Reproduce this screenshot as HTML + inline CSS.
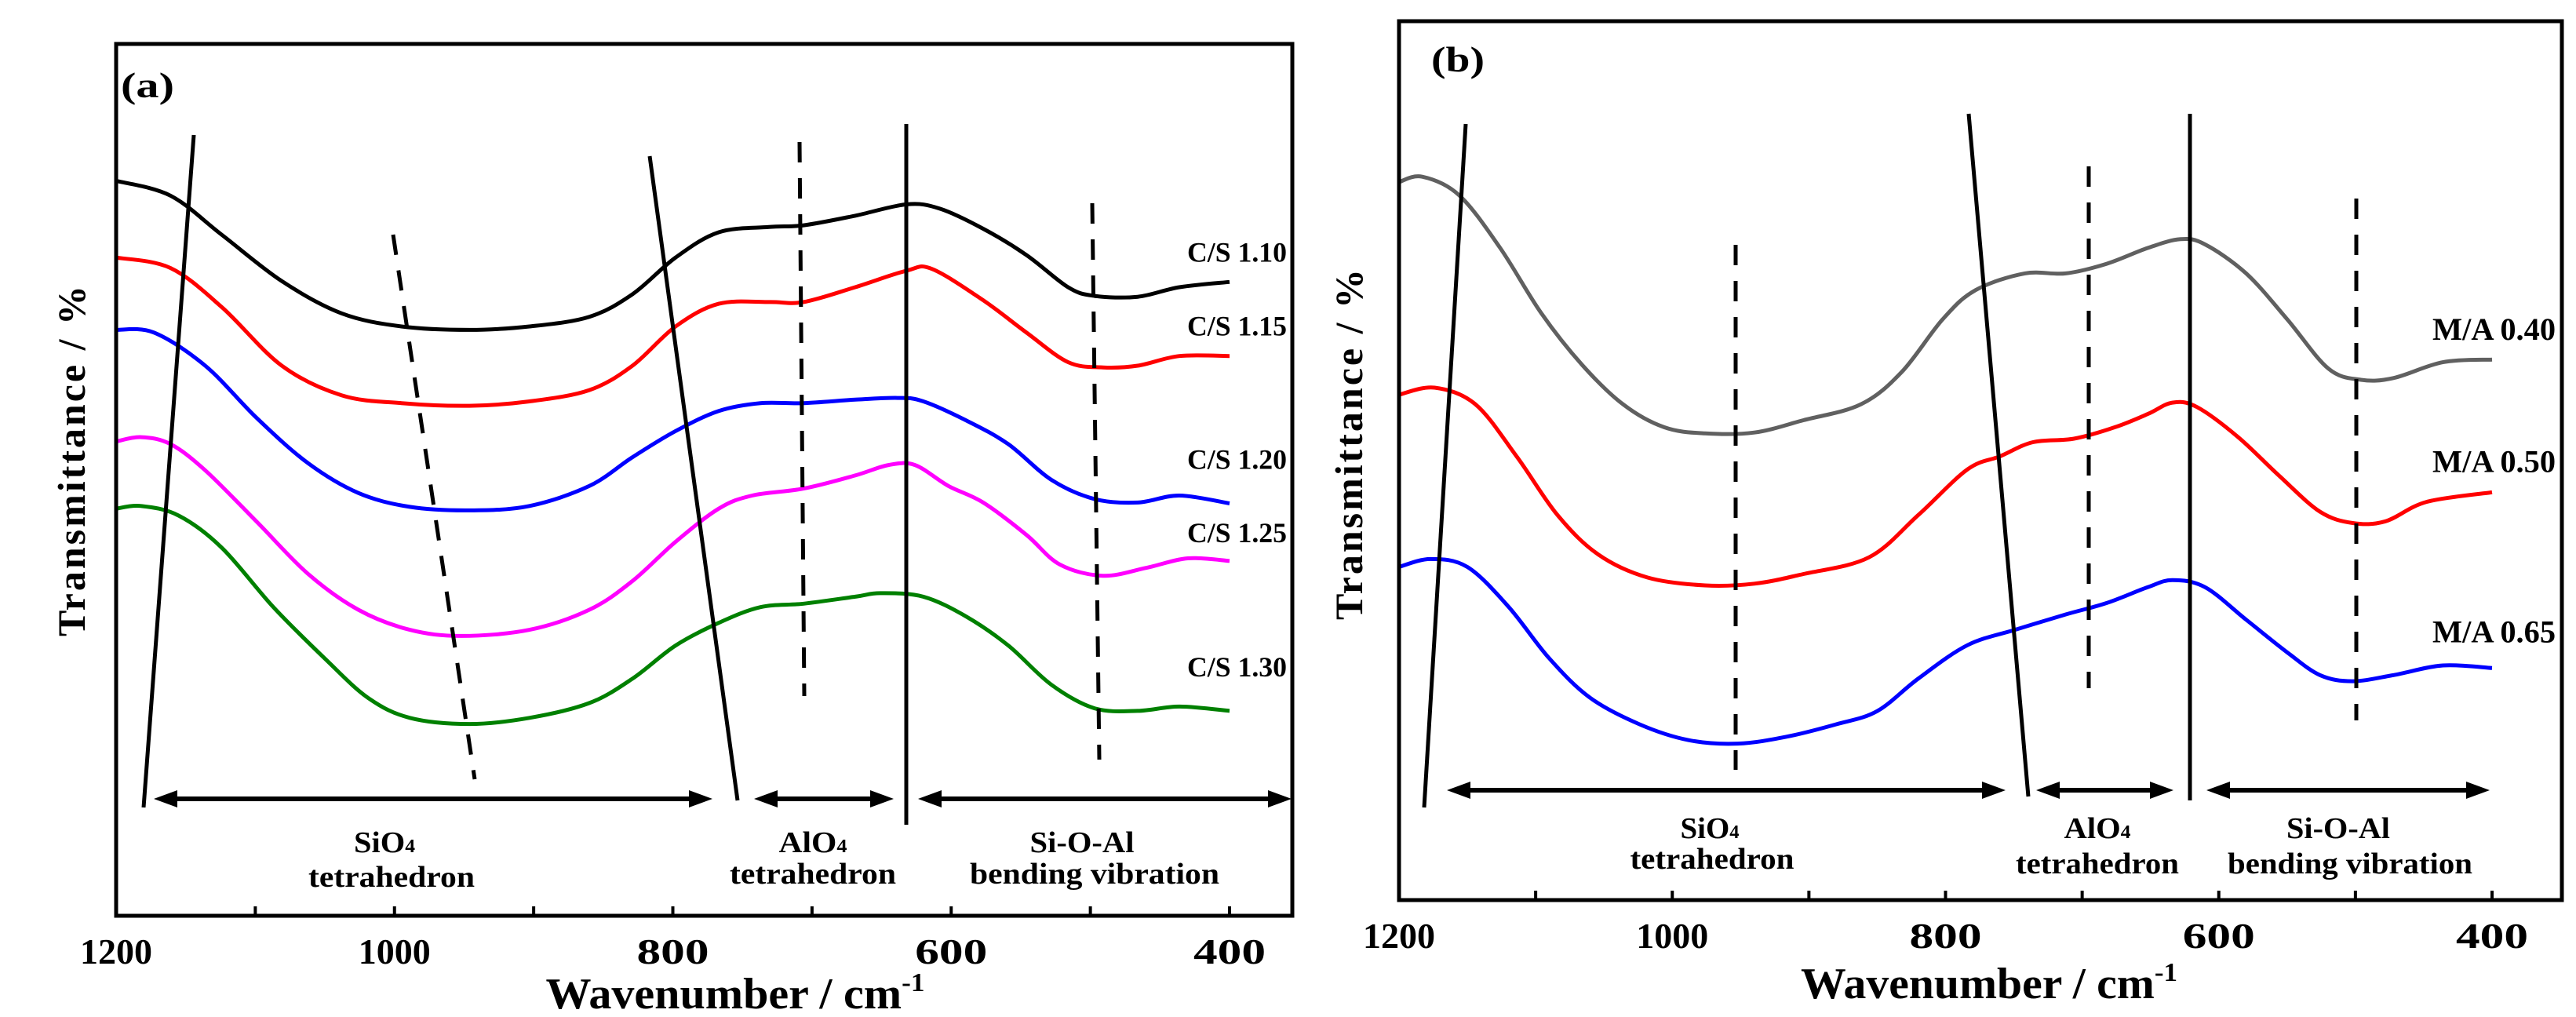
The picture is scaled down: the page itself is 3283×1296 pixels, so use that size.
<!DOCTYPE html>
<html><head><meta charset="utf-8"><style>
html,body{margin:0;padding:0;background:#fff;}
svg{display:block;font-family:"Liberation Serif",serif;font-weight:bold;}
</style></head><body>
<svg id="fig" width="3283" height="1296" viewBox="0 0 3283 1296"></svg>
<script>
// ---------- Panel (a) data ----------
const aTicks = [1200,1000,800,600,400];
const aNames = ["C/S 1.10","C/S 1.15","C/S 1.20","C/S 1.25","C/S 1.30"];
const aColors = ["#000000","#ff0000","#0000ff","#ff00ff","#008000"];
const aWn0 = [1200,1161,1124,1081,1038,995,946,903,860,829,798,767,731,706,669,632,608,577,546,516,497,466,436,400];
const aT0 = [84.3,82.6,78.1,72.8,69.1,67.6,67.2,67.6,68.7,71.3,75.5,78.4,79.0,79.2,80.3,81.6,81.1,78.8,75.8,72.1,71.1,71.0,72.1,72.7];
const aWn1 = [1200,1161,1124,1081,1038,995,946,903,860,829,798,767,731,706,669,632,614,577,546,516,491,466,436,400];
const aT1 = [75.5,74.3,69.8,63.1,59.7,58.8,58.5,59.0,60.3,63.1,67.6,70.2,70.4,70.4,72.1,74.0,74.2,70.6,66.9,63.5,62.9,63.1,64.2,64.2];
const aWn2 = [1200,1173,1136,1099,1062,1026,989,946,903,860,829,798,767,737,706,669,638,620,589,559,528,497,466,436,400];
const aT2 = [67.2,66.9,63.1,57.1,51.9,48.5,46.9,46.5,47.0,49.3,52.6,55.6,57.9,58.8,58.8,59.2,59.4,59.0,56.8,54.1,50.0,47.8,47.4,48.2,47.3];
const aWn3 = [1200,1182,1161,1136,1099,1062,1026,989,952,903,860,829,798,767,743,706,669,645,626,602,577,546,522,491,460,430,400];
const aT3 = [54.4,54.9,54.1,51.1,45.2,39.2,35.1,32.8,32.1,32.8,35.1,38.4,42.9,46.7,48.2,49.0,50.5,51.7,51.7,49.3,47.4,43.7,40.3,39.0,39.9,41.0,40.7];
const aWn4 = [1200,1182,1155,1124,1087,1050,1019,989,946,903,860,829,798,767,737,706,669,651,620,589,559,528,497,466,436,400];
const aT4 = [46.7,47.0,45.9,42.2,35.4,29.5,25.0,22.7,22.0,22.7,24.4,27.2,31.0,33.6,35.4,35.8,36.6,37.0,36.6,34.3,31.0,26.5,23.8,23.5,24.0,23.5];

// ---------- Panel (b) data ----------
const bTicks = [1200,1000,800,600,400];
const bNames = ["M/A 0.40","M/A 0.50","M/A 0.65"];
const bColors = ["#606060","#ff0000","#0000ff"];
const bWn0 = [1200,1183,1156,1126,1096,1066,1036,1006,976,940,904,862,832,802,778,742,712,682,652,628,610,580,550,520,496,472,436,400];
const bT0 = [81.7,82.3,80.2,74.2,66.8,60.9,56.4,53.8,53.1,53.2,54.6,56.4,60.1,66.1,69.4,71.3,71.3,72.4,74.2,75.2,74.6,71.3,66.1,60.5,59.2,59.4,61.2,61.5];
const bWn1 = [1200,1174,1144,1114,1084,1054,1018,976,940,904,856,820,784,760,736,706,676,652,634,616,586,556,526,502,478,448,400];
const bT1 = [57.5,58.3,56.4,50.5,43.8,39.3,36.7,35.8,36.0,37.1,39.0,43.8,49.0,50.5,52.1,52.5,53.8,55.3,56.6,56.1,52.7,48.3,44.2,42.9,43.1,45.3,46.4];
const bWn2 = [1200,1177,1150,1120,1090,1060,1024,988,952,916,880,850,820,784,748,712,682,652,634,610,580,550,526,502,472,436,400];
const bT2 = [37.9,38.8,37.9,33.4,27.5,23.0,20.0,18.2,17.8,18.6,20.0,21.5,25.2,29.0,30.8,32.5,33.8,35.6,36.4,35.6,31.9,28.2,25.6,24.9,25.6,26.7,26.4];

const NS="http://www.w3.org/2000/svg";
const svg=document.getElementById('fig');
function mk(tag,attrs,parent){const e=document.createElementNS(NS,tag);for(const k in attrs)e.setAttribute(k,attrs[k]);(parent||svg).appendChild(e);return e;}
function smooth(pts){let d="M"+pts[0][0].toFixed(1)+","+pts[0][1].toFixed(1);
 for(let i=0;i<pts.length-1;i++){const p0=pts[i-1]||pts[i],p1=pts[i],p2=pts[i+1],p3=pts[i+2]||p2;
  const c1=[p1[0]+(p2[0]-p0[0])/6,p1[1]+(p2[1]-p0[1])/6],c2=[p2[0]-(p3[0]-p1[0])/6,p2[1]-(p3[1]-p1[1])/6];
  d+=" C"+c1[0].toFixed(1)+","+c1[1].toFixed(1)+" "+c2[0].toFixed(1)+","+c2[1].toFixed(1)+" "+p2[0].toFixed(1)+","+p2[1].toFixed(1);}
 return d;}

function panel(P){
 const g=mk('g',{});
 
 
 const x=w=>P.L+(1200-w)/800*(P.x400-P.L);
 const y=v=>P.B-v/100*(P.B-P.T);
 P.series.forEach((s,i)=>{
  const pts=s.wn.map((w,j)=>[x(w),y(s.t[j])]);
  const p=mk('path',{d:smooth(pts),fill:'none',stroke:s.color,'stroke-width':5,'stroke-linejoin':'round'},g);
  
  
  const t=mk('text',{x:P.labX-P.labW,y:y(s.t[s.t.length-1])+P.labDy[i],'font-size':P.labFs,fill:'#000',textLength:P.labW,lengthAdjust:'spacingAndGlyphs'},g);
  t.textContent=s.name;
  
  
 });
 P.lines.forEach(l=>{const e=mk('line',{x1:l[0],y1:l[1],x2:l[2],y2:l[3],stroke:'#000','stroke-width':5,'stroke-dasharray':l[4]?'26,20':'none'},g);
  
  });
 P.arrows.forEach(a=>{const e=mk('g',{},g);
  
  
  mk('line',{x1:a[0]+20,y1:P.ay,x2:a[1]-20,y2:P.ay,stroke:'#000','stroke-width':6},e);
  mk('polygon',{points:`${a[0]},${P.ay} ${a[0]+30},${P.ay-11} ${a[0]+30},${P.ay+11}`,fill:'#000'},e);
  mk('polygon',{points:`${a[1]},${P.ay} ${a[1]-30},${P.ay-11} ${a[1]-30},${P.ay+11}`,fill:'#000'},e);});
 P.texts.forEach(tx=>{const t=mk('text',{x:tx[0]-tx[3]/2,y:tx[1],'font-size':38,textLength:tx[3],lengthAdjust:'spacingAndGlyphs'},g);
  if(tx[2]==='SiO'||tx[2]==='AlO'){t.textContent=tx[2];const s=mk('tspan',{'font-size':24},t);s.textContent='4';}
  else t.textContent=tx[2];
  
  });
 const f=mk('rect',{x:P.L,y:P.T,width:P.R-P.L,height:P.B-P.T,fill:'none',stroke:'#000','stroke-width':5},g);
 
 
 for(let w=1200;w>=400;w-=100){mk('line',{x1:x(w),y1:P.B,x2:x(w),y2:P.B-12,stroke:'#000','stroke-width':4},g);}
 P.ticks.forEach(w=>{const t=mk('text',{x:x(w)-46,y:P.tickY,'font-size':46,textLength:92,lengthAdjust:'spacingAndGlyphs'},g);t.textContent=w;
  
  });
 const xt=mk('text',{x:P.xtX-P.xtW/2,y:P.xtY,'font-size':56,textLength:P.xtW,lengthAdjust:'spacingAndGlyphs'},g);
 xt.textContent='Wavenumber / cm';const sup=mk('tspan',{dy:-22,'font-size':34},xt);sup.textContent='-1';
 
 
 const yt=mk('text',{x:0,y:0,'text-anchor':'middle','font-size':50,'letter-spacing':3,transform:`translate(${P.ytX},${P.ytY}) rotate(-90)`},g);
 yt.textContent='Transmittance / %';
 
 
 const pl=mk('text',{x:P.plX-34,y:P.plY,'font-size':46,textLength:68,lengthAdjust:'spacingAndGlyphs'},g);pl.textContent='('+P.id.slice(-1)+')';
 
 
}

panel({id:'panel-a',L:148,R:1647,T:56,B:1167,x400:1567,ticks:aTicks,tickY:1228,xtX:937,xtY:1285,xtW:483,ytX:108,ytY:586,plX:188,plY:124,
 labX:1640,labFs:36,labW:127,labDy:[-26,-26,-44,-24,-44],
 series:aNames.map((n,i)=>({name:n,color:aColors[i],wn:[aWn0,aWn1,aWn2,aWn3,aWn4][i],t:[aT0,aT1,aT2,aT3,aT4][i]})),
 lines:[[247,172,183,1029,0],[828,199,940,1020,0],[1155,158,1155,1051,0],[1019,181,1025,887,1],[501,299,605,993,1],[1392,259,1401,968,1]],
 ay:1018,arrows:[[196,908],[961,1139],[1170,1646]],
 texts:[[490,1086,'SiO',78],[499,1130,'tetrahedron',212],[1036,1086,'AlO',87],[1036,1126,'tetrahedron',212],[1379,1086,'Si-O-Al',133],[1395,1126,'bending vibration',318]]});

panel({id:'panel-b',L:1783,R:3265,T:27,B:1147,x400:3176,ticks:bTicks,tickY:1208,xtX:2535,xtY:1272,xtW:480,ytX:1736,ytY:565,plX:1858,plY:91,
 labX:3257,labFs:40,labW:157,labDy:[-25,-26,-33],
 series:bNames.map((n,i)=>({name:n,color:bColors[i],wn:[bWn0,bWn1,bWn2][i],t:[bT0,bT1,bT2][i]})),
 lines:[[1868,158,1815,1029,0],[2509,145,2585,1015,0],[2791,145,2791,1020,0],[2212,312,2212,981,1],[2662,212,2662,877,1],[3003,253,3003,918,1]],
 ay:1007,arrows:[[1844,2556],[2595,2770],[2812,3173]],
 texts:[[2179,1068,'SiO',75],[2182,1107,'tetrahedron',209],[2673,1068,'AlO',85],[2673,1113,'tetrahedron',208],[2980,1068,'Si-O-Al',132],[2995,1113,'bending vibration',312]]});
</script>
</body></html>
